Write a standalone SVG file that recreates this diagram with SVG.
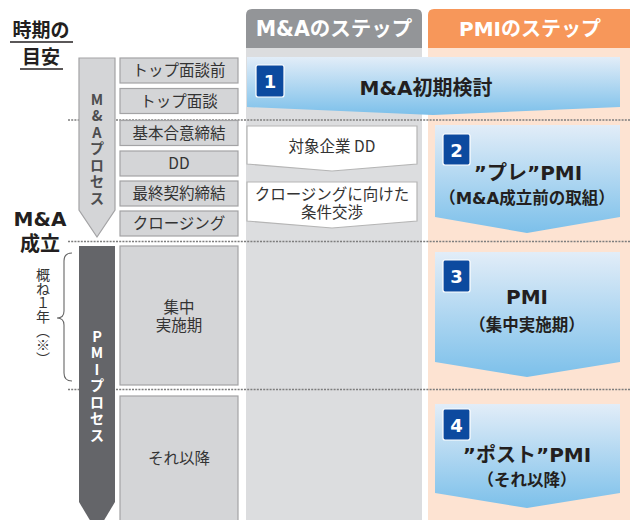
<svg xmlns="http://www.w3.org/2000/svg" width="630" height="520" viewBox="0 0 630 520">
<defs>
<linearGradient id="bg" x1="0" y1="0" x2="0" y2="1">
<stop offset="0" stop-color="#e2edf8"/>
<stop offset="1" stop-color="#7cc0ea"/>
</linearGradient>
<style>
.jp{font-family:"DejaVu Sans","Noto Sans CJK JP",sans-serif}
.step{fill:#d4d5d7;stroke:#a3a3a5;stroke-width:1.2}
.stxt{font-family:"Noto Sans CJK JP",sans-serif;font-size:15.5px;fill:#333;text-anchor:middle}
.dot{stroke:#7d7d7d;stroke-width:1.6;stroke-dasharray:2 1.2;fill:none}
.badge{fill:#0c4a9f;stroke:#fff;stroke-width:1.2}
.bnum{font-family:"DejaVu Sans",sans-serif;font-weight:bold;font-size:18px;fill:#fff;text-anchor:middle}
.big{font-family:"DejaVu Sans","Noto Sans CJK JP",sans-serif;font-weight:bold;font-size:20px;fill:#231f20;text-anchor:middle}
.sub{font-family:"DejaVu Sans","Noto Sans CJK JP",sans-serif;font-weight:bold;font-size:16.5px;fill:#231f20;text-anchor:middle}
.wbox{fill:#fff;stroke:#b5b5b5;stroke-width:1.2}
.vt{font-family:"Noto Sans CJK JP",sans-serif;font-weight:bold;font-size:14.5px;writing-mode:vertical-rl;text-orientation:upright;letter-spacing:2px}
</style>
</defs>
<rect width="630" height="520" fill="#fff"/>

<!-- column bodies -->
<g id="col-ma">
<rect x="246" y="40" width="176" height="480" fill="#dcdddf"/>
<path d="M246,48 V15 Q246,9 252,9 H416 Q422,9 422,15 V48 Z" fill="#939598"/>
<text x="334" y="36" class="jp" font-weight="bold" font-size="20.5" fill="#fff" text-anchor="middle">M&amp;Aのステップ</text>
</g>
<g id="col-pmi">
<rect x="428" y="40" width="202" height="480" fill="#fde3d2"/>
<path d="M428,48 V15 Q428,9 434,9 H630 V48 Z" fill="#f7975a"/>
<text x="530" y="36" class="jp" font-weight="bold" font-size="20" fill="#fff" text-anchor="middle">PMIのステップ</text>
</g>

<!-- dotted lines -->
<g id="connectors">
<line class="dot" x1="68" y1="120" x2="630" y2="120"/>
<line class="dot" x1="68" y1="241.5" x2="630" y2="241.5"/>
<line class="dot" x1="68" y1="389.5" x2="630" y2="389.5"/>
</g>

<!-- left labels -->
<g id="label-jiki">
<text x="41" y="37" font-family="Noto Sans CJK JP,sans-serif" font-weight="bold" font-size="19" fill="#231f20" text-anchor="middle">時期の</text>
<line x1="10" y1="42" x2="73" y2="42" stroke="#231f20" stroke-width="1.3"/>
<text x="41" y="64" font-family="Noto Sans CJK JP,sans-serif" font-weight="bold" font-size="19" fill="#231f20" text-anchor="middle">目安</text>
<line x1="20" y1="69" x2="63" y2="69" stroke="#231f20" stroke-width="1.3"/>
</g>
<g id="label-seiritsu">
<text x="40" y="226" class="jp" font-weight="bold" font-size="20" fill="#231f20" text-anchor="middle">M&amp;A<tspan x="40" y="251" font-family="Noto Sans CJK JP,sans-serif">成立</tspan></text>
</g>
<g id="label-1year">
<path d="M72,253 Q64,253 64,261 L64,311 Q64,318 57,318 Q64,318 64,325 L64,373 Q64,381 72,381" fill="none" stroke="#666" stroke-width="1.1"/>
<text x="43" y="268" font-family="Noto Sans CJK JP,sans-serif" font-size="14" fill="#333" style="writing-mode:vertical-rl">概ね１年（※）</text>
</g>

<!-- process arrows -->
<g id="ma-process">
<path d="M79,58 H115 V210 L97,237 L79,210 Z" fill="#d4d5d7" stroke="#a3a3a5" stroke-width="1.2"/>
<text class="vt" x="97" y="92" fill="#4d4d4f">M&amp;Aプロセス</text>
</g>
<g id="pmi-process">
<path d="M79,246 H115 V502 L97,532 L79,502 Z" fill="#646569"/>
<text class="vt" x="97" y="329" fill="#fff">PMIプロセス</text>
</g>

<!-- step boxes -->
<g id="s-top-pre"><rect class="step" x="120" y="58" width="118" height="25"/><text class="stxt" x="179" y="76">トップ面談前</text></g>
<g id="s-top"><rect class="step" x="120" y="88.5" width="118" height="25"/><text class="stxt" x="179" y="106.5">トップ面談</text></g>
<g id="s-kihon"><rect class="step" x="120" y="120.5" width="118" height="25"/><text class="stxt" x="179" y="138.5">基本合意締結</text></g>
<g id="s-dd"><rect class="step" x="120" y="151" width="118" height="25"/><text class="stxt" x="179" y="169">DD</text></g>
<g id="s-saishu"><rect class="step" x="120" y="181" width="118" height="25"/><text class="stxt" x="179" y="199">最終契約締結</text></g>
<g id="s-closing"><rect class="step" x="120" y="211" width="118" height="25"/><text class="stxt" x="179" y="229">クロージング</text></g>
<g id="s-shuchu"><rect class="step" x="120" y="246" width="118" height="139"/><text class="stxt" x="179" y="313">集中<tspan x="179" y="331">実施期</tspan></text></g>
<g id="s-irai"><rect class="step" x="120" y="396" width="118" height="130"/><text class="stxt" x="179" y="464">それ以降</text></g>

<!-- middle white arrows -->
<g id="m-dd"><path class="wbox" d="M247,126 H417 V164 L332,171 L247,164 Z"/><text class="stxt" x="332" y="152" font-size="16">対象企業 DD</text></g>
<g id="m-joken"><path class="wbox" d="M247,182 H417 V221 L332,228 L247,221 Z"/><text class="stxt" x="332" y="200" font-size="16">クロージングに向けた<tspan x="332" y="218">条件交渉</tspan></text></g>

<!-- PMI steps -->
<g id="p1">
<path d="M247,57 H620 V107 L433,115 L247,107 Z" fill="url(#bg)"/>
<rect class="badge" x="256" y="65" width="28" height="32" rx="2"/>
<text class="bnum" x="270" y="88">1</text>
<text class="big" x="426" y="95">M&amp;A初期検討</text>
</g>
<g id="p2">
<path d="M435,125 H620 V217 L527,233 L435,217 Z" fill="url(#bg)"/>
<rect class="badge" x="443" y="134" width="27" height="31" rx="2"/>
<text class="bnum" x="456.5" y="156.5">2</text>
<text class="big" x="528" y="180">”プレ”PMI</text>
<text class="sub" x="527" y="204">（M&amp;A成立前の取組）</text>
</g>
<g id="p3">
<path d="M435,252 H620 V362 L527,377 L435,362 Z" fill="url(#bg)"/>
<rect class="badge" x="443" y="260" width="27" height="32" rx="2"/>
<text class="bnum" x="456.5" y="283">3</text>
<text class="big" x="527" y="304">PMI</text>
<text class="sub" x="527" y="331">（集中実施期）</text>
</g>
<g id="p4">
<path d="M435,404 H620 V493 L527,508 L435,493 Z" fill="url(#bg)"/>
<rect class="badge" x="443" y="409" width="27" height="31" rx="2"/>
<text class="bnum" x="456.5" y="431.5">4</text>
<text class="big" x="527" y="462">”ポスト”PMI</text>
<text class="sub" x="527" y="486">（それ以降）</text>
</g>
</svg>
